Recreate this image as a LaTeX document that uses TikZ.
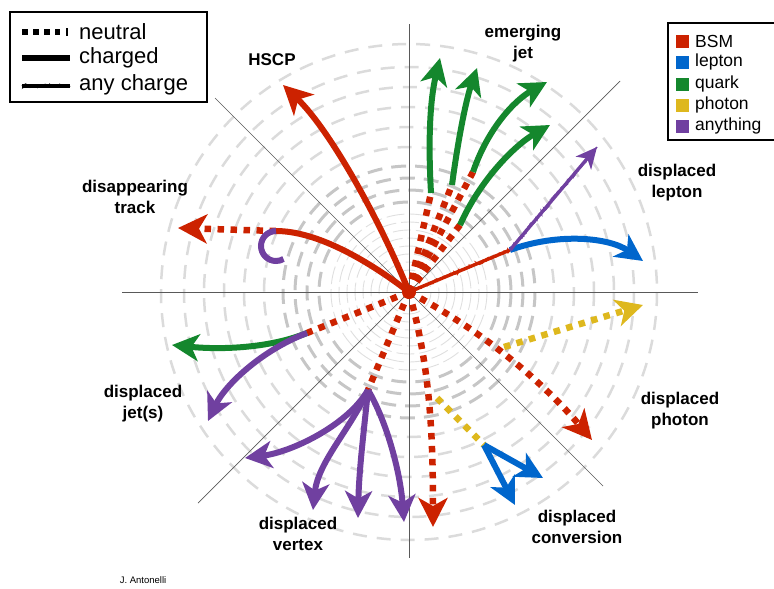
\documentclass[tikz,border=0pt]{standalone}
\usepackage{fontspec}
\setmainfont{Liberation Sans}
\usetikzlibrary{arrows.meta,decorations.pathmorphing}
\definecolor{bsm}{RGB}{204,34,0}
\definecolor{lep}{RGB}{0,102,204}
\definecolor{qrk}{RGB}{20,135,45}
\definecolor{pho}{RGB}{222,184,30}
\definecolor{anyc}{RGB}{112,64,160}
\begin{document}
\begin{tikzpicture}[x=1pt,y=-1pt,
  chg/.style={line width=6pt},
  neu/.style={line width=6.5pt, dash pattern=on 6.5pt off 6.5pt},
  fuzz/.style={line width=3.4pt},
  fuzzover/.style={line width=1.4pt, decorate, decoration={random steps,segment length=1.5pt,amplitude=1.5pt}},
  bigtip/.style={-{Stealth[length=29pt,width=29pt,inset=8pt]}},
  midtip/.style={-{Stealth[length=27pt,width=27pt,inset=7.5pt]}},
  smalltip/.style={-{Stealth[length=21pt,width=20pt,inset=6pt]}},
  lbl/.style={font=\fontsize{17}{21}\selectfont\bfseries, align=center},
  leg/.style={font=\fontsize{22}{24}\selectfont, anchor=west, inner sep=0pt},
  legc/.style={font=\fontsize{17.5}{20}\selectfont, anchor=west, inner sep=0pt},
  ax/.style={black!65, line width=0.7pt}]
\useasboundingbox (0,0) rectangle (774,589);
\coordinate (O) at (409,292);
% rings
\foreach \r in {22,30,38,46,54,62,70,78}
  \draw[gray!25, line width=0.9pt, dash pattern=on 18pt off 5pt] (O) circle[radius=\r];
\foreach \r in {90,102,114,126}
  \draw[gray!45, line width=3pt, dash pattern=on 15pt off 9pt] (O) circle[radius=\r];
\foreach \r in {145,165,185,205,225,248}
  \draw[gray!28, line width=2.5pt, dash pattern=on 14pt off 10pt] (O) circle[radius=\r];
% axes
\coordinate (axL) at (122,292); \coordinate (axR) at (698,292);
\coordinate (axT) at (409,24);  \coordinate (axB) at (409,558);
\coordinate (dUL) at (215,98);  \coordinate (dLR) at (603,486);
\coordinate (dLL) at (198,503); \coordinate (dUR) at (620,81);
\draw[ax] (axL) -- (axR);
\draw[ax] (axT) -- (axB);
\draw[ax] (dUL) -- (dLR);
\draw[ax] (dLL) -- (dUR);
% coordinates
\coordinate (hs) at (283,85);
\coordinate (dt) at (276,231);
\coordinate (dtt) at (178,228);
\coordinate (e1s) at (431,193); \coordinate (e1t) at (440,58);
\coordinate (e2s) at (452,185); \coordinate (e2t) at (477,68);
\coordinate (e3s) at (473,172); \coordinate (e3t) at (547,82);
\coordinate (e4s) at (460,225); \coordinate (e4t) at (550,125);
\coordinate (dl) at (510,250); \coordinate (dlb) at (643,261); \coordinate (dlp) at (597,147);
\coordinate (ph) at (592,440); \coordinate (ys) at (504,347); \coordinate (yt) at (643,305);
\coordinate (dc) at (433,527); \coordinate (cs) at (437,398); \coordinate (ce) at (484,445);
\coordinate (cb1) at (543,478); \coordinate (cb2) at (515,505);
\coordinate (dj) at (307,333); \coordinate (djg) at (172,345); \coordinate (djp) at (208,421);
\coordinate (dv) at (368,390);
\coordinate (v1) at (245,458); \coordinate (v2) at (313,510);
\coordinate (v3) at (358,518); \coordinate (v4) at (404,522);
% neutral red dotted lines
\draw[neu, bsm] (O) -- (e1s);
\draw[neu, bsm] (O) -- (e2s);
\draw[neu, bsm] (O) -- (e3s);
\draw[neu, bsm] (O) -- (e4s);
\draw[neu, bsm] (O) -- (dj);
\draw[neu, bsm] (O) -- (dv);
\draw[neu, bsm, bigtip] (O) .. controls (490,335) and (548,388) .. (ph);
\draw[neu, bsm, bigtip] (O) .. controls (428,360) and (433,420) .. (dc);
\draw[neu, bsm, bigtip] (dt) -- (dtt);
% charged red
\draw[chg, bsm, bigtip] (O) .. controls (380,220) and (330,130) .. (hs);
\draw[chg, bsm] (O) .. controls (370,262) and (318,231) .. (dt);
\draw[anyc, line width=6pt] (dt) arc[start angle=-90, end angle=-300, radius=15];
% any-charge red
\draw[bsm, fuzz] (O) -- (dl);
\draw[bsm, fuzzover] (O) -- (dl);
% emerging jet
\draw[chg, qrk, midtip] (e1s) .. controls (428,140) and (430,100) .. (e1t);
\draw[chg, qrk, midtip] (e2s) .. controls (458,140) and (466,100) .. (e2t);
\draw[chg, qrk, midtip] (e3s) .. controls (488,128) and (515,100) .. (e3t);
\draw[chg, qrk, midtip] (e4s) .. controls (480,180) and (515,145) .. (e4t);
% displaced lepton
\draw[chg, lep, midtip] (dl) .. controls (560,232) and (610,238) .. (dlb);
\draw[anyc, fuzz, smalltip] (dl) -- (dlp);
\draw[anyc, fuzzover] (dl) -- (dlp);
% displaced photon
\draw[neu, pho, midtip] (ys) -- (yt);
% displaced conversion
\draw[neu, pho] (cs) -- (ce);
\draw[chg, lep, midtip] (ce) -- (cb1);
\draw[chg, lep, midtip] (ce) -- (cb2);
% displaced jets
\draw[chg, qrk, midtip] (dj) .. controls (270,348) and (222,350) .. (djg);
\draw[chg, anyc, midtip] (dj) .. controls (262,350) and (225,385) .. (djp);
% displaced vertex
\draw[chg, anyc, midtip] (dv) .. controls (348,425) and (292,452) .. (v1);
\draw[chg, anyc, midtip] (dv) .. controls (350,430) and (318,462) .. (v2);
\draw[chg, anyc, midtip] (dv) .. controls (364,430) and (359,470) .. (v3);
\draw[chg, anyc, midtip] (dv) .. controls (386,420) and (400,470) .. (v4);
\fill[bsm] (O) circle[radius=7];
% labels
\node[lbl] (lHSCP) at (272,60) {HSCP};
\node[lbl] (lEJ) at (523,44) {emerging\\jet};
\node[lbl] (lDT) at (135,197) {disappearing\\track};
\node[lbl] (lDL) at (677,183) {displaced\\lepton};
\node[lbl] (lDJ) at (143,404) {displaced\\jet(s)};
\node[lbl] (lDV) at (298,534) {displaced\\vertex};
\node[lbl] (lDC) at (577,527) {displaced\\conversion};
\node[lbl] (lDP) at (680,411) {displaced\\photon};
\node[font=\fontsize{9.5}{11}\selectfont] (auth) at (143,580) {J. Antonelli};
% left legend
\draw[line width=2.5pt] (10,12) rectangle (207,102);
\coordinate (ln1) at (22,32); \coordinate (ln1e) at (60,32);
\coordinate (tk1) at (67,28); \coordinate (tk2) at (67,36);
\coordinate (lc1) at (22,58); \coordinate (lc1e) at (70,58);
\coordinate (la1) at (22,86); \coordinate (la1e) at (70,86);
\draw[line width=6pt, dash pattern=on 6pt off 5pt] (ln1) -- (ln1e);
\draw[line width=1.5pt] (tk1) -- (tk2);
\draw[line width=6pt] (lc1) -- (lc1e);
\draw[fuzz] (la1) -- (la1e);
\draw[fuzzover] (la1) -- (la1e);
\node[leg] (tn) at (79,32) {neutral};
\node[leg] (tc) at (79,58) {charged};
\node[leg] (ta) at (79,85) {any charge};
% right legend
\draw[line width=2.5pt] (776,23) -| (668,140) -- (776,140);
\foreach \c/\t/\y [count=\i] in {bsm/BSM/41, lep/lepton/62, qrk/quark/84, pho/photon/105, anyc/anything/126}{
  \fill[\c] (676,\y-6.5) rectangle (689,\y+6.5);
  \node[legc] (lg\i) at (695,\y) {\t};
}
\end{tikzpicture}
\end{document}
